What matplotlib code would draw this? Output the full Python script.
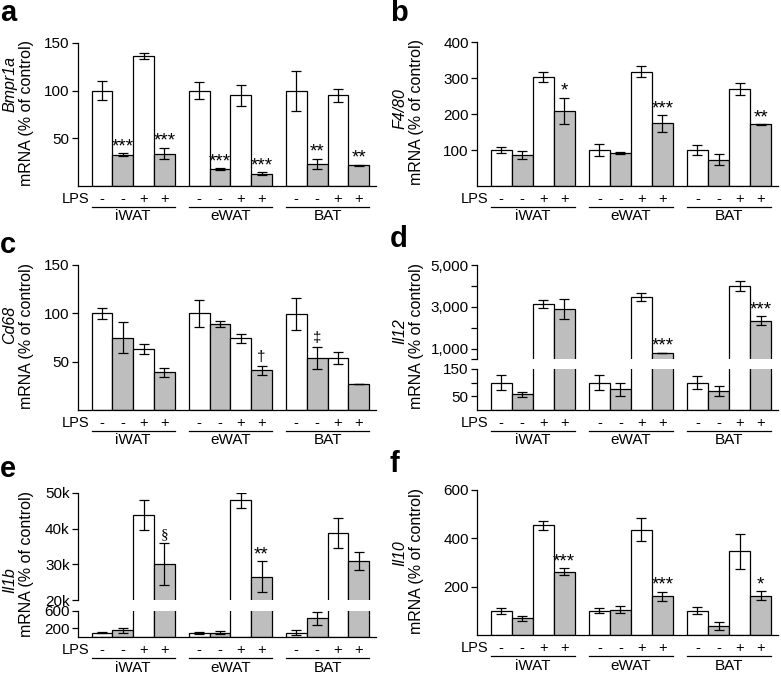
import matplotlib
matplotlib.use('Agg')
import matplotlib.pyplot as plt
from matplotlib.transforms import blended_transform_factory, ScaledTranslation

plt.rcParams['font.family'] = ['Liberation Sans', 'DejaVu Sans']
plt.rcParams['axes.linewidth'] = 0.9

W, H = 781, 676
fig = plt.figure(figsize=(W / 100, H / 100), dpi=100)

# ---------------- data ----------------
groups = ['iWAT', 'eWAT', 'BAT']
lps_signs = ['-', '-', '+', '+']
bar_fill = ['white', '#bebebe', 'white', '#bebebe']

# a: Bmpr1a
bmpr1a_mean = [100, 33, 136, 34, 100, 18, 95, 13, 100, 23, 95, 22]
bmpr1a_err = [10, 1.5, 3, 6, 9, 1, 11, 1.5, 21, 5.5, 7, 0.5]
bmpr1a_sig = ['', '***', '', '***', '', '***', '', '***', '', '**', '', '**']

# b: F4/80
f480_mean = [100, 86, 302, 209, 100, 92, 318, 174, 100, 73, 270, 171]
f480_err = [9, 12, 14, 36, 16, 3, 15, 23, 15, 16, 17, 1]
f480_sig = ['', '', '', '*', '', '', '', '***', '', '', '', '**']

# c: Cd68
cd68_mean = [100, 75, 63, 39, 100, 89, 74, 41, 99, 54, 54, 27]
cd68_err = [5.5, 16.5, 5.3, 4.8, 14.3, 2.8, 4.5, 4.8, 16.7, 11.4, 6.2, 0.3]
cd68_sig = ['', '', '', '', '', '', '', '\u2020', '', '\u2021', '', '']

# d: Il12
il12_mean = [100, 57, 3130, 2890, 100, 76, 3460, 790, 100, 70, 3990, 2340]
il12_err = [28, 8, 180, 490, 27, 24, 176, 15, 24, 19, 248, 216]
il12_sig = ['', '', '', '', '', '', '', '***', '', '', '', '***']

# e: Il1b
il1b_mean = [100, 155, 43900, 30000, 100, 100, 47900, 26500, 100, 427, 38750, 31000]
il1b_err = [10, 64, 4200, 5900, 20, 40, 2100, 4300, 60, 143, 4200, 2500]
il1b_sig = ['', '', '', '\u00a7', '', '', '', '**', '', '', '', '']

# f: Il10
il10_mean = [100, 69, 454, 262, 100, 105, 436, 161, 100, 37, 346, 163]
il10_err = [13, 11, 19, 14, 11, 14, 48, 19, 14, 15, 71, 19]
il10_sig = ['', '', '', '***', '', '', '', '***', '', '', '', '*']

# ---------------- layout helpers ----------------
GROUP_STEP = 4.67
XLIM = (-0.65, 2 * GROUP_STEP + 4 + 0.33)
xpos = [g * GROUP_STEP + i + 0.5 for g in range(3) for i in range(4)]
colors = bar_fill * 3

TICK_FS = 11
LABEL_FS = 11.5


def add_axes_px(l, t, r, b):
    return fig.add_axes([l / W, 1 - b / H, (r - l) / W, (b - t) / H])


def style(ax, ylim, ticks, labels, bottom=True):
    ax.set_xlim(*XLIM)
    ax.set_ylim(*ylim)
    ax.set_yticks(ticks)
    ax.set_yticklabels(labels)
    ax.spines['top'].set_visible(False)
    ax.spines['right'].set_visible(False)
    if not bottom:
        ax.spines['bottom'].set_visible(False)
    ax.set_xticks([])
    ax.tick_params(axis='y', direction='out', length=4, width=0.9, pad=2,
                   labelsize=TICK_FS)
    ax.patch.set_alpha(0)


def draw(ax, mean, err, sig=None):
    ax.bar(xpos, mean, width=1.0, color=colors, edgecolor='black',
           linewidth=0.9, zorder=2)
    ax.errorbar(xpos, mean, yerr=err, fmt='none', ecolor='black',
                elinewidth=0.9, capsize=3.3, capthick=0.9, zorder=3)
    if sig:
        for x, m, e, s in zip(xpos, mean, err, sig):
            if s:
                if '*' in s:
                    ax.annotate(s, xy=(x, m + e), xytext=(0, -1.5),
                                textcoords='offset points', ha='center',
                                va='bottom', fontsize=13.5, zorder=4)
                else:
                    fam = ['Liberation Serif'] if s == '\u00a7' else None
                    ax.annotate(s, xy=(x, m + e), xytext=(0, 1.5),
                                textcoords='offset points', ha='center',
                                va='bottom', fontsize=11, family=fam,
                                zorder=4)


def px_down(ax, dy):
    return blended_transform_factory(ax.transData, ax.transAxes) + \
        ScaledTranslation(0, -dy / 100, fig.dpi_scale_trans)


def bottom_labels(ax):
    ax.text(-0.12, 0, 'LPS', transform=px_down(ax, 13), ha='right',
            va='center', fontsize=10.5)
    for x, s in zip(xpos, lps_signs * 3):
        ax.text(x, 0, s, transform=px_down(ax, 13), ha='center',
                va='center', fontsize=10.5)
    for g, name in enumerate(groups):
        g0 = g * GROUP_STEP
        ax.plot([g0, g0 + 4], [0, 0], transform=px_down(ax, 21),
                color='black', lw=0.9, clip_on=False)
        ax.text(g0 + 2, 0, name, transform=px_down(ax, 30.5), ha='center',
                va='center', fontsize=11)


def ylabel(col_left, yc, gene, yg):
    fig.text((col_left + 10) / W, 1 - yg / H, gene, rotation=90,
             ha='center', va='center', fontsize=LABEL_FS, style='italic')
    fig.text((col_left + 27) / W, 1 - yc / H, 'mRNA (% of control)',
             rotation=90, ha='center', va='center', fontsize=LABEL_FS)


def panel_letter(x, y, s):
    fig.text(x / W, 1 - y / H, s, fontsize=21, fontweight='bold',
             ha='left', va='baseline')


# ---------------- panel a ----------------
ax = add_axes_px(78, 43, 376, 186)
style(ax, (0, 150), [50, 100, 150], ['50', '100', '150'])
draw(ax, bmpr1a_mean, bmpr1a_err, bmpr1a_sig)
bottom_labels(ax)
ylabel(0, 113, 'Bmpr1a', 84)
panel_letter(0, 21, 'a')

# ---------------- panel b ----------------
ax = add_axes_px(477, 42, 778, 186)
style(ax, (0, 400), [100, 200, 300, 400], ['100', '200', '300', '400'])
draw(ax, f480_mean, f480_err, f480_sig)
bottom_labels(ax)
ylabel(390, 112, 'F4/80', 109)
panel_letter(390, 21, 'b')

# ---------------- panel c ----------------
ax = add_axes_px(78, 265, 376, 410)
style(ax, (0, 150), [50, 100, 150], ['50', '100', '150'])
draw(ax, cd68_mean, cd68_err, cd68_sig)
bottom_labels(ax)
ylabel(0, 336, 'Cd68', 325)
panel_letter(0, 253, 'c')

# ---------------- panel d (broken axis) ----------------
axu = add_axes_px(477, 265, 778, 359)
style(axu, (500, 5000), [500, 1000, 2000, 3000, 4000, 5000],
      ['', '1,000', '', '3,000', '', '5,000'], bottom=False)
draw(axu, il12_mean, il12_err, il12_sig)
axl = add_axes_px(477, 369, 778, 410)
style(axl, (0, 150), [50, 100, 150], ['50', '', '150'])
draw(axl, il12_mean, il12_err)
bottom_labels(axl)
ylabel(390, 336, 'Il12', 331)
panel_letter(390, 247, 'd')

# ---------------- panel e (broken axis) ----------------
axu = add_axes_px(78, 493, 376, 600)
style(axu, (20000, 50000), [20000, 30000, 40000, 50000],
      ['20k', '30k', '40k', '50k'], bottom=False)
draw(axu, il1b_mean, il1b_err, il1b_sig)
axl = add_axes_px(78, 611, 376, 637)
style(axl, (0, 600), [200, 600], ['200', '600'])
draw(axl, il1b_mean, il1b_err)
bottom_labels(axl)
ylabel(0, 564, 'Il1b', 580)
panel_letter(0, 477, 'e')

# ---------------- panel f ----------------
ax = add_axes_px(477, 490, 778, 635)
style(ax, (0, 600), [200, 400, 600], ['200', '400', '600'])
draw(ax, il10_mean, il10_err, il10_sig)
bottom_labels(ax)
ylabel(390, 561, 'Il10', 553)
panel_letter(390, 472, 'f')

fig.savefig('out.png', dpi=100)
